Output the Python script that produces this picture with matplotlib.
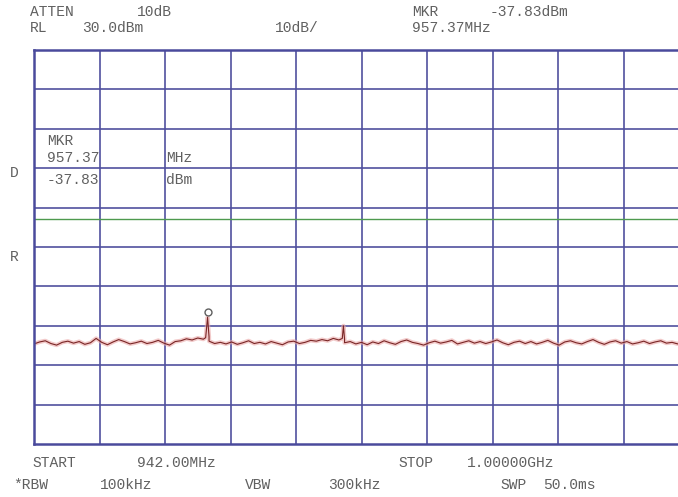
import numpy as np
import matplotlib
matplotlib.use("Agg")
import matplotlib.pyplot as plt

# sweep settings
start_mhz = 942.0
stop_mhz = 1000.0
ref_level = 30.0
db_per_div = 10.0
limit_dbm = -13.0

# trace: one reading every 0.5 MHz (942.0 ... 1000.0)
noise_dbm = [
    -44.6, -44.1, -43.8, -44.5, -44.9, -44.2, -43.9, -44.4, -44.0, -44.7,
    -44.3, -43.2, -44.2, -44.8, -44.1, -43.5, -44.0, -44.6, -44.3, -43.9,
    -44.5, -44.2, -43.7, -44.4, -44.9, -44.0, -43.8, -43.3, -43.6, -43.1,
    -43.4, -43.9, -44.5, -44.2, -44.6, -44.1, -44.7, -44.3, -43.8, -44.5,
    -44.2, -44.6, -44.0, -44.4, -44.8, -44.1, -43.9, -44.5, -44.2, -43.7,
    -43.9, -43.5, -43.8, -43.2, -43.6, -44.3, -44.0, -44.6, -44.2, -44.8,
    -44.1, -44.5, -43.8, -44.3, -44.7, -44.0, -43.6, -44.2, -44.5, -44.9,
    -44.3, -43.9, -44.4, -44.1, -43.7, -44.6, -44.2, -43.8, -44.4, -44.0,
    -44.5, -44.1, -43.6, -44.3, -44.8, -44.2, -43.9, -44.5, -44.0, -44.6,
    -44.2, -43.7, -44.4, -44.9, -44.1, -43.8, -44.3, -44.6, -44.0, -43.5,
    -44.2, -44.7, -44.1, -43.8, -44.4, -44.0, -44.6, -44.3, -43.9, -44.5,
    -44.1, -43.8, -44.4, -44.2, -44.6, -44.0, -44.3,
]
spike_mhz = [957.2, 957.37, 957.5, 969.3, 969.4, 969.5]
spike_dbm = [-43.0, -37.83, -42.8, -43.2, -40.0, -43.4]

mkr_mhz = 957.37
mkr_dbm = -37.83

freq = np.linspace(start_mhz, stop_mhz, len(noise_dbm))
f_all = np.concatenate([freq, spike_mhz])
l_all = np.concatenate([noise_dbm, spike_dbm])
order = np.argsort(f_all)
f_all, l_all = f_all[order], l_all[order]

W, H = 678, 497
fig = plt.figure(figsize=(W / 100, H / 100), dpi=100)
fig.patch.set_facecolor("white")

# grid box runs off the right edge like the screenshot
ax = fig.add_axes([34 / W, 1 - 444 / H, 655 / W, 394 / H])
ax.set_xlim(start_mhz, stop_mhz)
ax.set_ylim(ref_level - 10 * db_per_div, ref_level)
ax.set_xticks([])
ax.set_yticks([])
for s in ax.spines.values():
    s.set_color("#4a4a9c")
    s.set_linewidth(1.8)

grid_col = "#50509e"
for k in range(1, 10):
    ax.axvline(start_mhz + k * (stop_mhz - start_mhz) / 10, color=grid_col, lw=1.2)
    ax.axhline(ref_level - k * db_per_div, color=grid_col, lw=1.2)

ax.axhline(limit_dbm, color="#4e9a4e", lw=1.0)

# trace with soft halo
ax.plot(f_all, l_all, color="#eaa8a8", lw=3.0, alpha=0.6)
ax.plot(f_all, l_all, color="#7a2626", lw=0.8)
ax.plot([mkr_mhz], [mkr_dbm + 1.3], marker="o", ms=5, mfc="none",
        mec="#606060", mew=1.0)

tcol = "#606060"
fs = 10.5


def put(px, py, s):
    fig.text(px / W, 1 - py / H, s, color=tcol, fontsize=fs,
             va="center", ha="left", family=["Liberation Mono", "DejaVu Sans Mono"])


put(30, 12, "ATTEN")
put(137, 12, "10dB")
put(30, 28, "RL")
put(82, 28, "30.0dBm")
put(275, 28, "10dB/")
put(412, 12, "MKR")
put(490, 12, "-37.83dBm")
put(412, 28, "957.37MHz")

put(47, 141, "MKR")
put(47, 158, "957.37")
put(166, 158, "MHz")
put(47, 180, "-37.83")
put(166, 180, "dBm")
put(10, 173, "D")
put(10, 257, "R")

put(32, 463, "START")
put(137, 463, "942.00MHz")
put(398, 463, "STOP")
put(467, 463, "1.00000GHz")
put(13, 485, "*RBW")
put(100, 485, "100kHz")
put(245, 485, "VBW")
put(328, 485, "300kHz")
put(500, 485, "SWP")
put(543, 485, "50.0ms")

fig.savefig("out.png", dpi=100)
